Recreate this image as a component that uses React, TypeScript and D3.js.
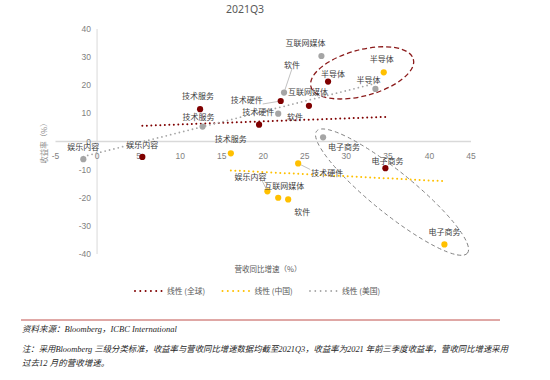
import React from "react";
import * as d3 from "d3";

// ---- data ----
const sectors = ["技术服务", "娱乐内容", "技术硬件", "软件", "互联网媒体", "半导体", "电子商务"];
// revenue growth YoY (%) and return (%)
const globalGrowth = [12.4, 5.45, 22.1, 19.5, 25.5, 27.8, 34.7];
const globalReturn = [11.5, -5.5, 14.4, 6.0, 12.7, 21.3, -9.5];
const chinaGrowth = [16.1, 20.5, 24.2, 23.0, 21.8, 34.5, 41.8];
const chinaReturn = [-4.2, -17.7, -7.8, -20.6, -20.0, 24.6, -36.6];
const usGrowth = [12.7, -1.65, 21.8, 22.5, 27.0, 33.5, 27.2];
const usReturn = [5.3, -6.3, 9.9, 17.4, 30.4, 18.7, 1.5];
const xTicks = [-5, 0, 5, 10, 15, 20, 25, 30, 35, 40, 45];
const yTicks = [-40, -30, -20, -10, 0, 10, 20, 30, 40];
const seriesNames = ["线性 (全球)", "线性 (中国)", "线性 (美国)"];

// ---- label placement (px offsets from dot), [dx, dy, leader] ----
const globalLabelOff: [number, number, boolean][] = [
  [-2, -13, false], [0, -12, false], [-34, -1, true], [36, -8, false], [-1, -14, false], [5, -8, false], [2, -7, false],
];
const chinaLabelOff: [number, number, boolean][] = [
  [0, -14, false], [-17, -14, true], [29, 10, true], [14, 13, false], [6, -12, false], [-2, -13, false], [0, -12, false],
];
const usLabelOff: [number, number, boolean][] = [
  [-4, -10, false], [0, -12, false], [-20, -2, false], [8, -28, true], [-16, -13, false], [-7, -9, false], [21, 10, false],
];

const W = 550, H = 380;
const x = d3.scaleLinear().domain([-5, 45]).range([55.5, 471]);
const y = d3.scaleLinear().domain([-40, 40]).range([254, 29]);

const C_GLOBAL = "#7f0000";
const C_CHINA = "#ffc000";
const C_US = "#a5a5a5";
const CJK = "'Noto Sans CJK SC', 'Noto Sans', sans-serif";

function regression(xs: number[], ys: number[]) {
  const mx = d3.mean(xs)!, my = d3.mean(ys)!;
  let sxx = 0, sxy = 0;
  xs.forEach((v, i) => { sxx += (v - mx) ** 2; sxy += (v - mx) * (ys[i] - my); });
  const b = sxy / sxx, a = my - b * mx;
  const [x0, x1] = d3.extent(xs) as [number, number];
  return [[x0, a + b * x0], [x1, a + b * x1]] as [number, number][];
}

const series = [
  { gx: globalGrowth, ry: globalReturn, color: C_GLOBAL, off: globalLabelOff, width: 2 },
  { gx: chinaGrowth, ry: chinaReturn, color: C_CHINA, off: chinaLabelOff, width: 2 },
  { gx: usGrowth, ry: usReturn, color: C_US, off: usLabelOff, width: 1.8 },
];

const line = d3.line<[number, number]>().x((d) => x(d[0])).y((d) => y(d[1]));

export default function App() {
  return (
    <svg width={W} height={H} style={{ position: "absolute", left: 0, top: 0, background: "#fff" }}>
      {/* title */}
      <text x={245} y={13} textAnchor="middle" fontSize={10.5} fill="#595959" fontFamily="'Noto Sans', sans-serif">2021Q3</text>

      {/* axes */}
      <line x1={x(0)} x2={x(0)} y1={y(40)} y2={y(-40)} stroke="#d9d9d9" strokeWidth={1} />
      <line x1={x(-5)} x2={x(45)} y1={y(0)} y2={y(0)} stroke="#d9d9d9" strokeWidth={1.5} />
      {yTicks.map((t) => (
        <text key={"y" + t} x={x(0) - 6} y={y(t) + 3} textAnchor="end" fontSize={8.5} fill="#7f7f7f" fontFamily="'Liberation Sans', sans-serif">{t}</text>
      ))}
      {xTicks.map((t) => (
        <text key={"x" + t} x={x(t)} y={y(0) + 17} textAnchor="middle" fontSize={8.5} fill="#7f7f7f" fontFamily="'Liberation Sans', sans-serif">{t}</text>
      ))}
      <text transform={`translate(47,${y(0)}) rotate(-90)`} textAnchor="middle" fontSize={7.5} fill="#8c8c8c" fontFamily={CJK}>收益率（%）</text>
      <text x={268} y={272} textAnchor="middle" fontSize={7.5} fill="#595959" fontFamily={CJK}>营收同比增速（%）</text>

      {/* ellipses */}
      <ellipse cx={0} cy={0} rx={53} ry={23} transform={`translate(${x(31.9)},${y(24.4)}) rotate(-15)`} fill="none" stroke="#8b1a1a" strokeWidth={1.3} strokeDasharray="5 3" />
      <ellipse cx={0} cy={0} rx={97} ry={21} transform={`translate(${x(35.5)},${y(-18.0)}) rotate(39)`} fill="none" stroke="#7f7f7f" strokeWidth={0.9} strokeDasharray="4 3" />

      {/* trend lines */}
      {series.map((s, i) => (
        <path key={"t" + i} d={line(regression(s.gx, s.ry))!} fill="none" stroke={s.color} strokeWidth={s.width} strokeDasharray="0 4.5" strokeLinecap="round" />
      ))}

      {/* points + labels */}
      {series.map((s, si) => (
        <g key={"s" + si}>
          {sectors.map((name, i) => {
            const px = x(s.gx[i]), py = y(s.ry[i]);
            const [dx, dy, leader] = s.off[i];
            const lx = px + dx, ly = py + dy;
            return (
              <g key={name}>
                {leader && (
                  <line x1={lx + (dx < 0 ? (dx < -25 ? 16 : 12) : dx > 20 ? -17 : 0)} y1={ly + (dy < -20 ? 4 : dy > 0 ? -4 : 4)} x2={px} y2={py} stroke="#a6a6a6" strokeWidth={0.7} />
                )}
                <circle cx={px} cy={py} r={3.1} fill={s.color} />
                <text x={lx} y={ly + 3} textAnchor="middle" fontSize={8} fill="#404040" fontFamily={CJK}>{name}</text>
              </g>
            );
          })}
        </g>
      ))}

      {/* legend */}
      {seriesNames.map((n, i) => {
        const lx = 135 + i * 87.5;
        return (
          <g key={n}>
            <line x1={lx} x2={lx + 27} y1={291} y2={291} stroke={series[i].color} strokeWidth={series[i].width} strokeDasharray="0 5.3" strokeLinecap="round" />
            <text x={lx + 32} y={294} fontSize={7.8} fill="#595959" fontFamily={CJK}>{n}</text>
          </g>
        );
      })}

      {/* footnote */}
      <line x1={21} x2={500} y1={320} y2={320} stroke="#c0504d" strokeWidth={1} />
      <g fontFamily="'Liberation Serif', 'Noto Sans CJK SC', serif" fontStyle="italic" fontSize={8.5} fill="#262626">
        <text x={22} y={332}>资料来源：Bloomberg，ICBC International</text>
        <text x={22} y={352} textLength={486} lengthAdjust="spacingAndGlyphs">注：采用Bloomberg 三级分类标准，收益率与营收同比增速数据均截至2021Q3，收益率为2021 年前三季度收益率，营收同比增速采用</text>
        <text x={22} y={366}>过去12 月的营收增速。</text>
      </g>
    </svg>
  );
}
